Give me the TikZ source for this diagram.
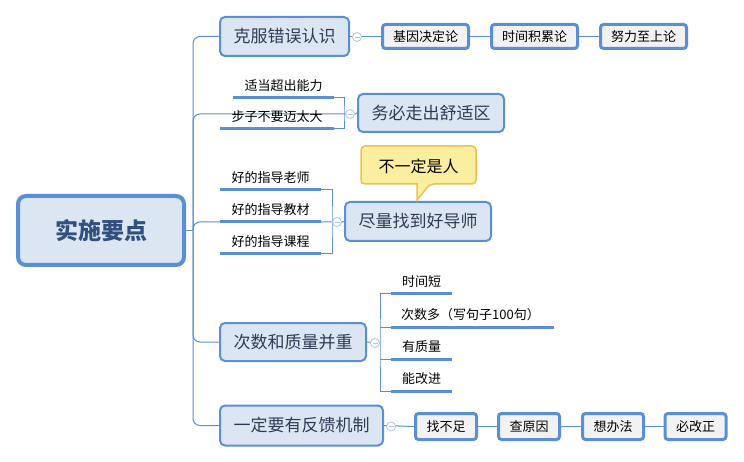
\documentclass[tikz,border=0pt]{standalone}
\usepackage{fontspec}
\newfontfamily\cjk{Noto Sans CJK SC}
\usetikzlibrary{backgrounds}
\definecolor{bl}{HTML}{5B8FD4}
\definecolor{bfill}{HTML}{DCE6F2}
\definecolor{cfill}{HTML}{F2F2F2}
\definecolor{mtext}{HTML}{2E3B55}
\definecolor{rtext}{HTML}{30507F}
\definecolor{circ}{HTML}{AFC4E6}
\definecolor{yfill}{HTML}{FBEE9E}
\definecolor{yborder}{HTML}{F0C04C}
\begin{document}
\begin{tikzpicture}[x=1pt,y=-1pt,
 conn/.style={draw=bl, line width=1pt},
 ul/.style={draw=bl, line width=3pt},
 rootbox/.style={draw=bl, line width=4pt, fill=bfill, rounded corners=8pt, text=rtext, font=\cjk\bfseries\fontsize{23}{26}\selectfont, inner sep=0pt},
 mainbox/.style={draw=bl, line width=2pt, fill=bfill, rounded corners=5pt, text=mtext, font=\cjk\fontsize{17}{20}\selectfont, inner sep=0pt},
 childbox/.style={draw=bl, line width=3pt, fill=cfill, rounded corners=3pt, text=black, font=\cjk\fontsize{13}{16}\selectfont, inner sep=0pt, minimum height=24pt},
 lbl/.style={text=black, font=\cjk\fontsize{13}{16}\selectfont, inner sep=0pt},
 fold/.style={circle, draw=circ, fill=white, line width=0.8pt, minimum size=9pt, inner sep=0pt,
   path picture={\draw[circ, line width=0.8pt] ([xshift=-2.5pt]path picture bounding box.center) -- ([xshift=2.5pt]path picture bounding box.center);}},
]
\useasboundingbox (0,0) rectangle (744,462);

% root
\node[rootbox, minimum width=166pt, minimum height=69pt] (root) at (101,230.5) {实施要点};

% main branches
\node[mainbox, minimum width=129pt, minimum height=39pt] (b1) at (284.5,36.5) {克服错误认识};
\node[mainbox, minimum width=146pt, minimum height=38pt] (b2) at (431,113) {务必走出舒适区};
\node[mainbox, minimum width=146pt, minimum height=39pt] (b3) at (418,221.5) {尽量找到好导师};
\node[mainbox, minimum width=146pt, minimum height=38pt] (b4) at (293,342) {次数和质量并重};
\node[mainbox, minimum width=163pt, minimum height=40pt] (b5) at (301.5,425.5) {一定要有反馈机制};

% children of b1
\node[childbox, minimum width=86pt] (c11) at (425.5,36.5) {基因决定论};
\node[childbox, minimum width=86pt] (c12) at (534.5,36.5) {时间积累论};
\node[childbox, minimum width=86pt] (c13) at (643.5,36.5) {努力至上论};

% children of b5
\node[childbox, minimum width=61pt, minimum height=26pt] (c51) at (446,426.5) {找不足};
\node[childbox, minimum width=61pt, minimum height=26pt] (c52) at (529,426.5) {查原因};
\node[childbox, minimum width=61pt, minimum height=26pt] (c53) at (613,426.5) {想办法};
\node[childbox, minimum width=61pt, minimum height=26pt] (c54) at (695.5,426.5) {必改正};

% fold marks
\node[fold] (f1) at (357,37) {};
\node[fold] (f2) at (350,114) {};
\node[fold] (f3) at (337,222) {};
\node[fold] (f4) at (375,343) {};
\node[fold] (f5) at (391,426.5) {};

% trunk anchor coordinates
\coordinate (tr) at (193,230.5);
\coordinate (br2) at (344,114);
\coordinate (br3) at (332,222);
\coordinate (br4) at (380,343);

% underline coordinates
\coordinate (u21a) at (233,98);  \coordinate (u21b) at (334,98);
\coordinate (u22a) at (220,129); \coordinate (u22b) at (334,129);
\coordinate (u31a) at (220,190); \coordinate (u31b) at (321,190);
\coordinate (u32a) at (220,222); \coordinate (u32b) at (321,222);
\coordinate (u33a) at (220,254); \coordinate (u33b) at (321,254);
\coordinate (u41a) at (391,294); \coordinate (u41b) at (452,294);
\coordinate (u42a) at (391,327); \coordinate (u42b) at (554,327);
\coordinate (u43a) at (391,359); \coordinate (u43b) at (452,359);
\coordinate (u44a) at (391,391); \coordinate (u44b) at (452,391);

% labels over underlines
\node[lbl] (l21) at (283.5,86) {适当超出能力};
\node[lbl] (l22) at (277,117) {步子不要迈太大};
\node[lbl] (l31) at (270.5,177.5) {好的指导老师};
\node[lbl] (l32) at (270.5,209.5) {好的指导教材};
\node[lbl] (l33) at (270.5,241.5) {好的指导课程};
\node[lbl] (l41) at (421.5,282) {时间短};
\node[lbl] (l42) at (470.5,315) {次数多（写句子100句）};
\node[lbl] (l43) at (421.5,347) {有质量};
\node[lbl] (l44) at (421.5,379) {能改进};

% callout
\draw[draw=yborder, fill=yfill, line width=1.5pt, rounded corners=4pt]
  (361,146) -- (476,146) -- (476,184) -- (430,184) [sharp corners] -- (417,200) -- (417,184) [rounded corners=4pt] -- (361,184) -- cycle;
\node[text=black, font=\cjk\fontsize{16}{19}\selectfont, inner sep=0pt] (co) at (418.5,166) {不一定是人};

\begin{pgfonlayer}{background}
  \fill[white] (0,0) rectangle (744,462);
  \draw[conn] (root.east) -- (tr);
  \draw[conn, rounded corners=7pt] (tr) |- (b1.west);
  \draw[conn, rounded corners=7pt] (tr) |- (f2.west);
  \draw[conn, rounded corners=7pt] (tr) |- (f3.west);
  \draw[conn, rounded corners=7pt] (tr) |- (b4.west);
  \draw[conn, rounded corners=7pt] (tr) |- (b5.west);
  % b1 chain
  \draw[conn] (b1.east) -- (c11.west);
  \draw[conn] (c11.east) -- (c12.west);
  \draw[conn] (c12.east) -- (c13.west);
  % b5 chain
  \draw[conn] (b5.east) -- (c51.west);
  \draw[conn] (c51.east) -- (c52.west);
  \draw[conn] (c52.east) -- (c53.west);
  \draw[conn] (c53.east) -- (c54.west);
  % b2 bracket
  \draw[conn] (u21b) -| (br2) |- (u22b);
  \draw[conn] (f2.east) -- (b2.west);
  % b3 bracket
  \draw[conn] (u31b) -| (br3) |- (u33b);
  \draw[conn] (f3.east) -- (b3.west);
  % b4 bracket
  \draw[conn] (b4.east) -- (br4);
  \draw[conn] (u41a) -| (br4) |- (u44a);
  \draw[conn] (br4 |- u42a) -- (u42a);
  \draw[conn] (br4 |- u43a) -- (u43a);
  % underlines
  \draw[ul] (u21a) -- (u21b);
  \draw[ul] (u22a) -- (u22b);
  \draw[ul] (u31a) -- (u31b);
  \draw[ul] (u32a) -- (u32b);
  \draw[ul] (u33a) -- (u33b);
  \draw[ul] (u41a) -- (u41b);
  \draw[ul] (u42a) -- (u42b);
  \draw[ul] (u43a) -- (u43b);
  \draw[ul] (u44a) -- (u44b);
\end{pgfonlayer}
\end{tikzpicture}
\end{document}
